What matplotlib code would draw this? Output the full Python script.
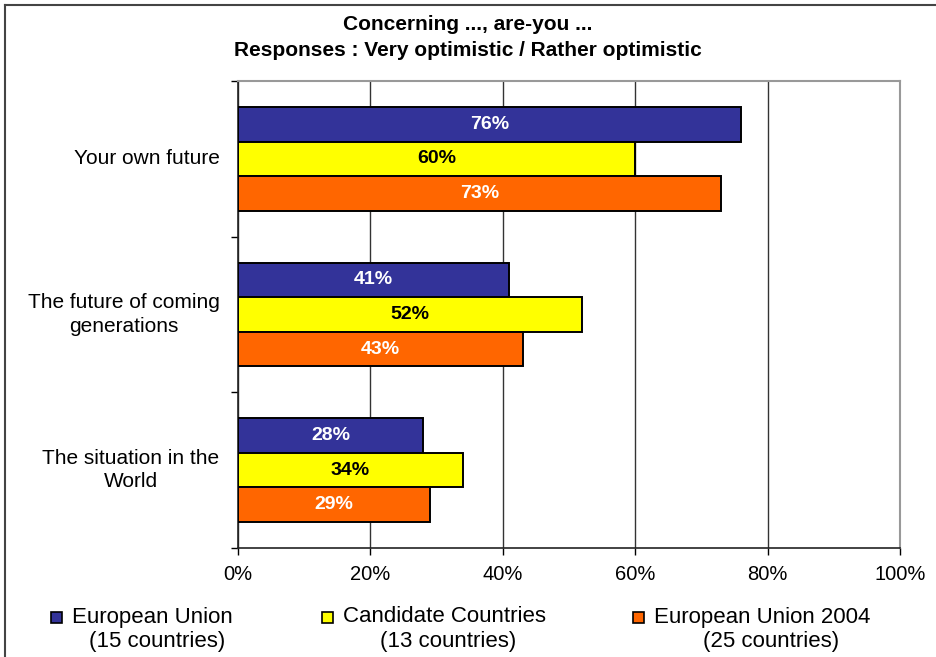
import matplotlib
matplotlib.use("Agg")
import matplotlib.pyplot as plt
import matplotlib.ticker as ticker
from matplotlib.patches import Rectangle
from matplotlib.lines import Line2D
import numpy as np

plt.rcParams["font.family"] = ["Liberation Sans", "DejaVu Sans"]

# survey data (percent very / rather optimistic)
questions = ["Your own future", "The future of coming\ngenerations", "The situation in the\nWorld"]
series_names = ["European Union", "Candidate Countries", "European Union 2004"]
series_notes = ["(15 countries)", "(13 countries)", "(25 countries)"]
eu15 = [76, 41, 28]
candidates = [60, 52, 34]
eu25 = [73, 43, 29]
colors = ["#333399", "#FFFF00", "#FF6600"]
text_colors = ["white", "black", "white"]

fig = plt.figure(figsize=(9.36, 6.57), dpi=100)
ax = fig.add_axes([0.2543, 0.166, 0.7072, 0.7105])

n = len(questions)
bar_h = 1 / 4.5
values = [eu15, candidates, eu25]
for s, vals in enumerate(values):
    # first series sits on top within each group
    ys = np.arange(n)[::-1] + (1 - s) * bar_h
    bars = ax.barh(ys, vals, height=bar_h, color=colors[s], edgecolor="black",
                   linewidth=1.4, zorder=3)
    for b, v in zip(bars, vals):
        ax.text(v / 2, b.get_y() + bar_h / 2, f"{v}%", ha="center", va="center",
                fontsize=14, fontweight="bold", color=text_colors[s], zorder=4)

ax.set_xlim(0, 100)
ax.set_ylim(-0.5, n - 0.5)
ax.xaxis.set_major_locator(ticker.MultipleLocator(20))
ax.xaxis.set_major_formatter(ticker.FuncFormatter(lambda v, p: f"{int(v)}%"))
ax.grid(axis="x", color="#333333", linewidth=1, zorder=0)

# group separators on the category axis
ax.set_yticks(np.arange(n + 1) - 0.5)
ax.set_yticklabels([])
ax.tick_params(axis="y", length=5, width=1, direction="out")
ax.tick_params(axis="x", length=5, width=1, direction="out", labelsize=14.5, pad=7)
for i, q in enumerate(questions):
    ax.text(-0.028, n - 1 - i, q, transform=ax.get_yaxis_transform(), ha="right",
            va="center", multialignment="center", fontsize=15, linespacing=1.3)

for side in ["top", "right"]:
    ax.spines[side].set_color("#999999")
    ax.spines[side].set_linewidth(1.5)
for side in ["left", "bottom"]:
    ax.spines[side].set_color("#222222")
    ax.spines[side].set_linewidth(1.2)

fig.text(0.5, 1 - 25 / 657, "Concerning ..., are-you ...", ha="center", va="center",
         fontsize=15, fontweight="bold")
fig.text(0.5, 1 - 50 / 657, "Responses : Very optimistic / Rather optimistic",
         ha="center", va="center", fontsize=15, fontweight="bold")

# legend along the bottom
marker_x = [51, 322, 633]
note_x = [89, 380, 703]
for mx, nx, name, note, c in zip(marker_x, note_x, series_names, series_notes, colors):
    fig.patches.append(Rectangle((mx / 936, 1 - 623 / 657), 11 / 936, 11 / 657,
                                 transform=fig.transFigure, facecolor=c,
                                 edgecolor="black", linewidth=1.2))
    fig.text((mx + 21) / 936, 1 - 617 / 657, name, ha="left", va="center", fontsize=16)
    fig.text(nx / 936, 1 - 641 / 657, note, ha="left", va="center", fontsize=16)

# outer frame
fig.lines.append(Line2D([5 / 936, 5 / 936], [0, 1 - 5 / 657], transform=fig.transFigure,
                        color="#444444", linewidth=1.5))
fig.lines.append(Line2D([5 / 936, 1], [1 - 5 / 657, 1 - 5 / 657], transform=fig.transFigure,
                        color="#444444", linewidth=1.5))

fig.savefig("out.png", dpi=100)
